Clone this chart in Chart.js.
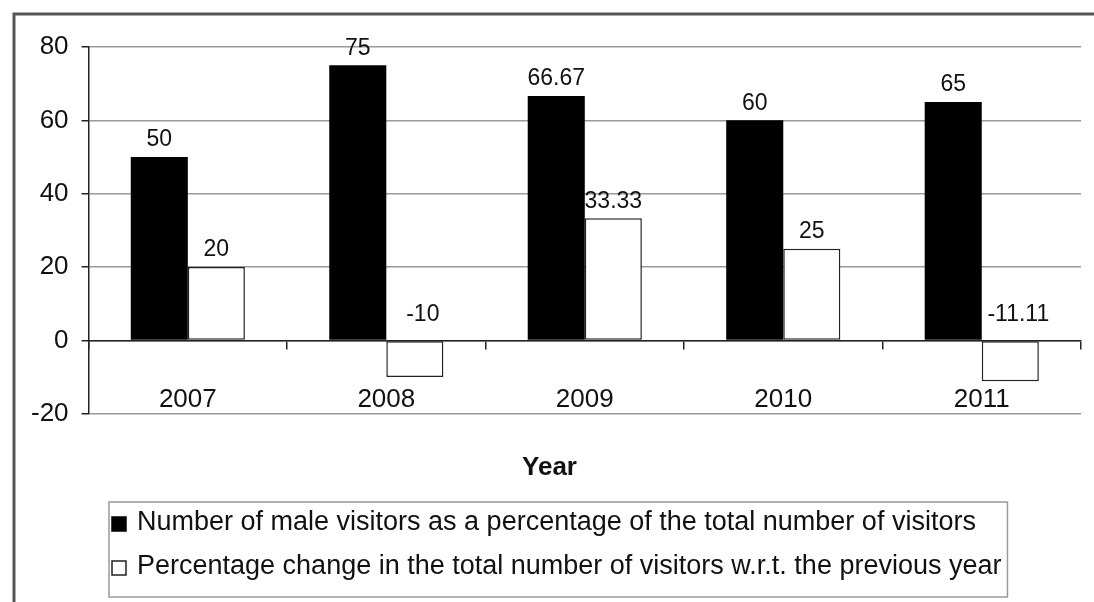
<!DOCTYPE html>
<html>
<head>
<meta charset="utf-8">
<script src="https://cdn.jsdelivr.net/npm/chart.js@4"></script>
<style>
  html, body { margin: 0; padding: 0; background: #fff; }
  #wrap { width: 1094px; height: 602px; }
</style>
</head>
<body>
<div id="wrap"><canvas id="chart" width="1094" height="602"></canvas></div>
<script>
// --- Data ---
const years = ['2007', '2008', '2009', '2010', '2011'];
const maleShare = [50, 75, 66.67, 60, 65];
const visitorChange = [20, -10, 33.33, 25, -11.11];
const seriesNames = [
    'Number of male visitors as a percentage of the total number of visitors',
    'Percentage change in the total number of visitors w.r.t. the previous year'
];
const yTicks = [-20, 0, 20, 40, 60, 80];

const FONT = '"Liberation Sans", Arial, sans-serif';
const INK = '#111';

// outer frame (top + left edge only, like the scan)
const framePlugin = {
    id: 'frame',
    beforeDraw(chart) {
        const ctx = chart.ctx;
        ctx.save();
        ctx.fillStyle = '#fff';
        ctx.fillRect(0, 0, chart.width, chart.height);
        ctx.strokeStyle = '#555';
        ctx.lineWidth = 3;
        ctx.beginPath();
        ctx.moveTo(14, chart.height);
        ctx.lineTo(14, 14);
        ctx.lineTo(chart.width, 14);
        ctx.stroke();
        ctx.restore();
    }
};

// value labels over the bars (negatives sit above the zero line)
const valueLabels = {
    id: 'valueLabels',
    afterDatasetsDraw(chart) {
        const ctx = chart.ctx;
        const zeroY = chart.scales.y.getPixelForValue(0);
        ctx.save();
        ctx.font = '23px ' + FONT;
        ctx.fillStyle = INK;
        ctx.textAlign = 'center';
        ctx.textBaseline = 'middle';
        chart.data.datasets.forEach((ds, di) => {
            chart.getDatasetMeta(di).data.forEach((bar, i) => {
                const v = ds.data[i];
                const y = v >= 0 ? bar.y - 17 : zeroY - 26;
                const x = v >= 0 ? bar.x : bar.x + 8;
                ctx.fillText(String(v), x, y);
            });
        });
        ctx.restore();
    }
};

// boxed legend, one entry per row, left aligned
const boxLegend = {
    id: 'boxLegend',
    afterDraw(chart) {
        const ctx = chart.ctx;
        const left = 109, top = 502, rowH = 44, sq = 14;
        ctx.save();
        ctx.font = '27px ' + FONT;
        let maxW = 0;
        chart.data.datasets.forEach(ds => { maxW = Math.max(maxW, ctx.measureText(ds.label).width); });
        const boxW = 137 - left + maxW + 6;
        const boxH = rowH * chart.data.datasets.length + 7;
        ctx.strokeStyle = '#999';
        ctx.lineWidth = 1.5;
        ctx.strokeRect(left, top, boxW, boxH);
        chart.data.datasets.forEach((ds, i) => {
            const cy = top + 21 + i * rowH;
            ctx.fillStyle = ds.backgroundColor;
            ctx.fillRect(left + 3, cy - sq / 2 + 1, sq, sq);
            ctx.strokeStyle = ds.borderColor;
            ctx.lineWidth = 1.5;
            ctx.strokeRect(left + 3, cy - sq / 2 + 1, sq, sq);
            ctx.fillStyle = INK;
            ctx.textAlign = 'left';
            ctx.textBaseline = 'middle';
            ctx.fillText(ds.label, 137, cy);
        });
        ctx.restore();
    }
};

new Chart(document.getElementById('chart'), {
    type: 'bar',
    data: {
        labels: years,
        datasets: [
            {
                label: seriesNames[0],
                data: maleShare,
                backgroundColor: '#000',
                borderColor: '#000',
                borderWidth: 0,
                categoryPercentage: 0.575,
                barPercentage: 1.0
            },
            {
                label: seriesNames[1],
                data: visitorChange,
                backgroundColor: '#fff',
                borderColor: '#222',
                borderWidth: 1.5,
                borderSkipped: false,
                categoryPercentage: 0.575,
                barPercentage: 1.0
            }
        ]
    },
    options: {
        responsive: false,
        animation: false,
        layout: { padding: { top: 47, left: 18, right: 13, bottom: 115 } },
        plugins: {
            legend: { display: false },
            tooltip: { enabled: false },
            title: {
                display: true,
                text: 'Year',
                position: 'bottom',
                weight: 500,
                color: INK,
                font: { family: FONT, size: 26, weight: 'bold' },
                padding: { top: 38, bottom: 4 }
            }
        },
        scales: {
            x: {
                type: 'category',
                position: { y: 0 },
                grid: {
                    offset: true,
                    drawOnChartArea: false,
                    tickLength: 8,
                    color: '#222',
                    lineWidth: 1.5
                },
                border: { color: '#222', width: 1.5 },
                ticks: {
                    color: INK,
                    padding: 36,
                    font: { family: FONT, size: 26 }
                }
            },
            y: {
                min: yTicks[0],
                max: yTicks[yTicks.length - 1],
                ticks: {
                    stepSize: yTicks[1] - yTicks[0],
                    color: INK,
                    padding: 13,
                    font: { family: FONT, size: 26 }
                },
                grid: {
                    color: '#999',
                    lineWidth: 1.5,
                    tickLength: 7,
                    tickColor: '#222'
                },
                border: { color: '#222', width: 1.5 }
            }
        }
    },
    plugins: [framePlugin, valueLabels, boxLegend]
});
</script>
</body>
</html>
